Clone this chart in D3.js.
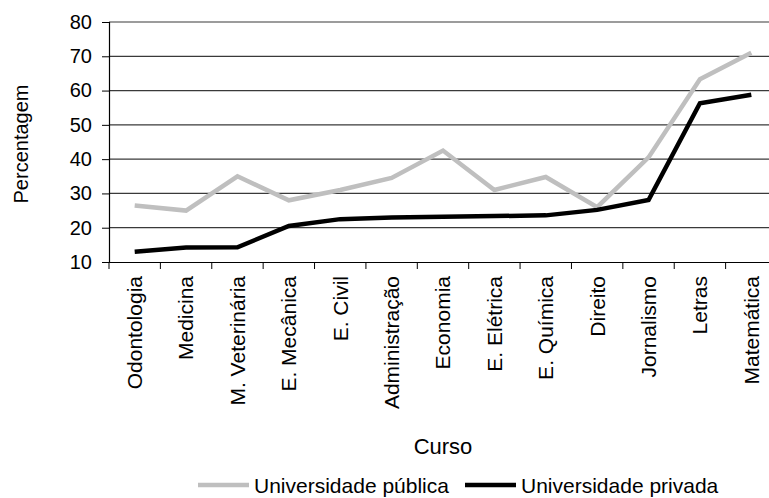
<!DOCTYPE html>
<html>
<head>
<meta charset="utf-8">
<script src="https://cdn.jsdelivr.net/npm/d3@7"></script>
<style>
  body { margin: 0; background: #fff; }
  text { font-family: "Liberation Sans", Arial, sans-serif; fill: #000; }
</style>
</head>
<body>
<svg id="chart"></svg>
<script>
var cursos = ["Odontologia", "Medicina", "M. Veterinária", "E. Mecânica", "E. Civil",
  "Administração", "Economia", "E. Elétrica", "E. Química", "Direito",
  "Jornalismo", "Letras", "Matemática"];
var publica = [26.5, 25, 35, 28, 31, 34.5, 42.5, 31, 34.8, 26, 40.5, 63.3, 71];
var privada = [13, 14.2, 14.3, 20.5, 22.5, 23, 23.2, 23.4, 23.6, 25.2, 28.1, 56.3, 58.8];
var yTicks = [10, 20, 30, 40, 50, 60, 70, 80];

var width = 769, height = 498;
var margin = {left: 109, top: 22, right: -8, bottom: 236};

var svg = d3.select('#chart')
    .attr('width', width)
    .attr('height', height);

var x = d3.scaleBand()
    .domain(cursos)
    .range([margin.left, width - margin.right]);

var y = d3.scaleLinear()
    .domain([10, 80])
    .range([height - margin.bottom, margin.top]);

// gridlines
svg.append('g')
  .selectAll('line')
  .data(yTicks.slice(1))
  .enter().append('line')
  .attr('x1', margin.left)
  .attr('x2', width - margin.right)
  .attr('y1', d => y(d))
  .attr('y2', d => y(d))
  .attr('stroke', '#3a3a3a')
  .attr('stroke-width', 1.2);

// y axis
var yAxis = svg.append('g')
  .attr('transform', 'translate(' + margin.left + ',0)')
  .call(d3.axisLeft(y).tickValues(yTicks).tickSize(7).tickPadding(10));
yAxis.select('.domain').attr('stroke', '#000').attr('stroke-width', 1.2);
yAxis.selectAll('.tick line').attr('stroke', '#000');
yAxis.selectAll('text').style('font-size', '20px');

// x axis
var xAxis = svg.append('g')
  .attr('transform', 'translate(0,' + y(10) + ')')
  .call(d3.axisBottom(x).tickSize(7).tickSizeOuter(0).tickPadding(0));
xAxis.select('.domain').attr('stroke', '#000').attr('stroke-width', 1.2);
// ticks sit on band edges
xAxis.selectAll('.tick line')
  .attr('x1', -x.bandwidth() / 2).attr('x2', -x.bandwidth() / 2)
  .attr('stroke', '#000');
xAxis.selectAll('text')
  .style('font-size', '21px')
  .attr('text-anchor', 'end')
  .attr('transform', 'rotate(-90)')
  .attr('x', -14)
  .attr('y', 0)
  .attr('dy', '0.35em');

var line = d3.line()
  .x((d, i) => x(cursos[i]) + x.bandwidth() / 2)
  .y(d => y(d));

svg.append('path')
  .datum(publica)
  .attr('d', line)
  .attr('fill', 'none')
  .attr('stroke', '#bfbfbf')
  .attr('stroke-width', 4.5);

svg.append('path')
  .datum(privada)
  .attr('d', line)
  .attr('fill', 'none')
  .attr('stroke', '#000')
  .attr('stroke-width', 4.5);

// axis titles
svg.append('text')
  .attr('transform', 'translate(28,' + (margin.top + 122) + ') rotate(-90)')
  .attr('text-anchor', 'middle')
  .style('font-size', '20px')
  .text('Percentagem');

svg.append('text')
  .attr('x', 443)
  .attr('y', 454)
  .attr('text-anchor', 'middle')
  .style('font-size', '22px')
  .text('Curso');

// legend
var legend = [
  {name: 'Universidade pública', color: '#bfbfbf', x: 198},
  {name: 'Universidade privada', color: '#000', x: 465}
];
var lg = svg.append('g').selectAll('g').data(legend).enter().append('g')
  .attr('transform', d => 'translate(' + d.x + ',485)');
lg.append('line')
  .attr('x1', 0).attr('x2', 51)
  .attr('stroke', d => d.color)
  .attr('stroke-width', 4.5);
lg.append('text')
  .attr('x', 56)
  .attr('y', 8)
  .style('font-size', '21px')
  .text(d => d.name);
</script>
</body>
</html>
